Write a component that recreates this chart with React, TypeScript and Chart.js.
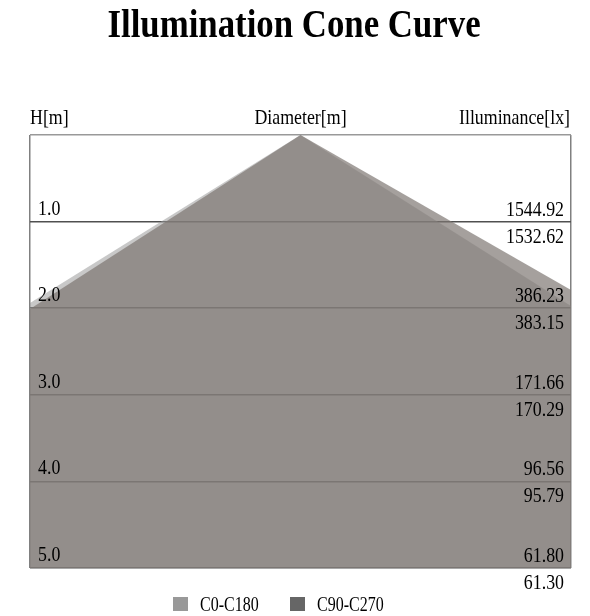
import React, { useEffect, useRef } from "react";
import { Chart, registerables } from "chart.js";

Chart.register(...registerables);

// ---- data ----
const title = "Illumination Cone Curve";
const headerLabels = ["H[m]", "Diameter[m]", "Illuminance[lx]"];
const heights = [1, 2, 3, 4, 5];
const illumC0 = ["1544.92", "386.23", "171.66", "96.56", "61.80"];
const illumC90 = ["1532.62", "383.15", "170.29", "95.79", "61.30"];
const seriesNames = ["C0-C180", "C90-C270"];
// cone outline points: x = relative diameter position, y = height H[m]
const coneX = [-1, 0, 1];
const coneC0 = [1.94, 0, 1.975];
const coneC90 = [2.01, 0, 1.79];
const hMin = 0;
const hMax = 5;

const FONT = '"Liberation Serif", "Times New Roman", serif';

function drawText(
  ctx: CanvasRenderingContext2D,
  text: string,
  x: number,
  y: number,
  align: CanvasTextAlign,
  font: string,
  sx = 0.85
) {
  ctx.save();
  ctx.font = font;
  ctx.fillStyle = "#000";
  ctx.textBaseline = "alphabetic";
  ctx.textAlign = align;
  ctx.translate(x, y);
  ctx.scale(sx, 1);
  ctx.fillText(text, 0, 0);
  ctx.restore();
}

const textPlugin = {
  id: "coneTexts",
  afterDraw(chart: any) {
    const ctx: CanvasRenderingContext2D = chart.ctx;
    const { left, right, top } = chart.chartArea;
    const ys = chart.scales.y;
    const xs = chart.scales.x;
    const f = `21px ${FONT}`;
    // title
    drawText(ctx, title, 294, 37, "center", `bold 40px ${FONT}`, 0.87);
    // headers
    drawText(ctx, headerLabels[0], left, top - 11, "left", f);
    drawText(ctx, headerLabels[1], xs.getPixelForValue(0), top - 11, "center", f);
    drawText(ctx, headerLabels[2], right - 1, top - 11, "right", f);
    // rows
    heights.forEach((h, i) => {
      const y = ys.getPixelForValue(h);
      drawText(ctx, h.toFixed(1), left + 8, y - 7, "left", f);
      drawText(ctx, illumC0[i], right - 7, y - 6, "right", f);
      drawText(ctx, illumC90[i], right - 7, y + 21, "right", f);
    });
    // legend
    const lf = `20px ${FONT}`;
    const boxes = [
      { x: 173, color: "#999999" },
      { x: 290, color: "#666666" },
    ];
    boxes.forEach((b, i) => {
      ctx.save();
      ctx.fillStyle = b.color;
      ctx.fillRect(b.x, 597, 15, 14);
      ctx.restore();
      drawText(ctx, seriesNames[i], b.x + 27, 611, "left", lf, 0.8);
    });
  },
};

export default function App() {
  const ref = useRef<HTMLCanvasElement | null>(null);
  useEffect(() => {
    if (!ref.current) return;
    const mk = (ys: number[]) => coneX.map((x, i) => ({ x, y: ys[i] }));
    const chart = new Chart(ref.current, {
      type: "line",
      data: {
        datasets: [
          {
            label: seriesNames[0],
            data: mk(coneC0),
            backgroundColor: "rgba(153,153,153,0.54)",
            borderColor: "rgba(0,0,0,0)",
            borderWidth: 0,
            pointRadius: 0,
            tension: 0,
            fill: { value: hMax },
            order: 2,
          },
          {
            label: seriesNames[1],
            data: mk(coneC90),
            backgroundColor: "rgba(125,118,113,0.69)",
            borderColor: "rgba(0,0,0,0)",
            borderWidth: 0,
            pointRadius: 0,
            tension: 0,
            fill: { value: hMax },
            order: 1,
          },
        ],
      },
      options: {
        responsive: false,
        maintainAspectRatio: false,
        animation: false,
        devicePixelRatio: 1,
        layout: { padding: { left: 30, right: 19, top: 135, bottom: 48 } },
        plugins: {
          legend: { display: false },
          title: { display: false },
          tooltip: { enabled: false },
        },
        scales: {
          x: {
            type: "linear",
            min: -1,
            max: 1,
            z: 1,
            border: { display: false },
            ticks: { display: false, stepSize: 1 },
            grid: {
              drawTicks: false,
              lineWidth: 1.5,
              color: (c: any) => (c.tick && c.tick.value === 0 ? "rgba(0,0,0,0)" : "#808080"),
            },
          },
          y: {
            type: "linear",
            min: hMin,
            max: hMax,
            reverse: true,
            z: 1,
            border: { display: false },
            ticks: { display: false, stepSize: 1 },
            grid: {
              drawTicks: false,
              lineWidth: 1.5,
              color: (c: any) => (c.tick && c.tick.value === 0 ? "#999999" : "#505050"),
            },
          },
        },
      },
      plugins: [textPlugin],
    });
    return () => chart.destroy();
  }, []);
  return (
    <div style={{ position: "fixed", left: 0, top: 0, width: 590, height: 616, background: "#fff" }}>
      <canvas ref={ref} width={590} height={616} style={{ display: "block" }} />
    </div>
  );
}
